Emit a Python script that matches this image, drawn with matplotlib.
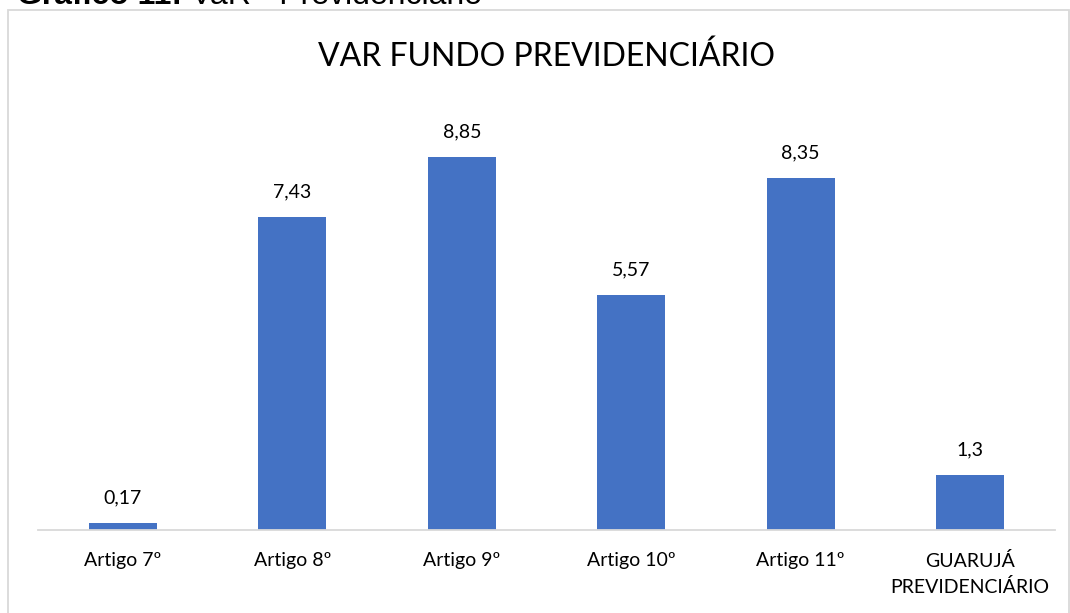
import matplotlib
matplotlib.use("Agg")
import matplotlib.pyplot as plt
from matplotlib.patches import Rectangle

categorias = ["Artigo 7º", "Artigo 8º", "Artigo 9º", "Artigo 10º", "Artigo 11º",
              "GUARUJÁ\nPREVIDENCIÁRIO"]
valores = [0.17, 7.43, 8.85, 5.57, 8.35, 1.3]
rotulos = ["0,17", "7,43", "8,85", "5,57", "8,35", "1,3"]

plt.rcParams['font.family'] = ['Lato', 'DejaVu Sans']

W, H = 1070, 613
fig = plt.figure(figsize=(W / 100, H / 100), dpi=100)

# moldura do grafico (cortada em baixo)
fig.patches.append(Rectangle((8 / W, -0.05), (1069 - 8) / W, 1.05 - 10 / H,
                             transform=fig.transFigure, fill=False,
                             edgecolor="#d9d9d9", linewidth=1.3))

ax = fig.add_axes([38 / W, 1 - 530 / H, (1055 - 38) / W, (530 - 108.5) / H])

# legenda do documento, cortada no topo
neg = fig.text(17 / W, 1 - 4 / H, "Gráfico 11:", fontsize=23, fontweight="bold",
               family="Liberation Sans", va="baseline", ha="left")
ax.annotate(" VaR - Previdenciário", xy=(1, 0), xycoords=neg, fontsize=23,
            family="Liberation Sans", va="bottom", ha="left",
            annotation_clip=False)

x = range(len(categorias))
ax.bar(x, valores, width=0.4, color="#4472c4")
for xi, v, r in zip(x, valores, rotulos):
    ax.annotate(r, (xi, v), xytext=(0, 12), textcoords="offset points",
                ha="center", va="bottom", fontsize=14, color="#000000")

ax.set_xlim(-0.5, 5.5)
ax.set_ylim(0, 10)
ax.set_xticks(list(x))
ax.set_xticklabels(categorias, fontsize=14, linespacing=1.55, va="top")
ax.tick_params(axis="x", length=0, pad=16)
ax.set_yticks([])
for s in ["left", "right", "top"]:
    ax.spines[s].set_visible(False)
ax.spines["bottom"].set_color("#d9d9d9")
ax.spines["bottom"].set_linewidth(1.3)

fig.text(546 / W, 1 - 57 / H, "VAR FUNDO PREVIDENCIÁRIO", fontsize=23,
         ha="center", va="center")

fig.savefig("out.png", dpi=100)
